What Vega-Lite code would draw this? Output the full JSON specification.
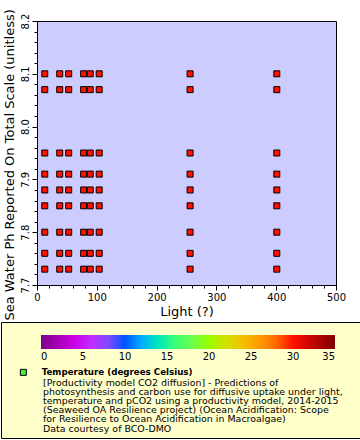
{
  "$schema": "https://vega.github.io/schema/vega-lite/v6.json",
  "autosize": {"type": "pad"},
  "padding": {"left": 0, "top": 8, "right": 0, "bottom": 0},
  "background": "white",
  "config": {
    "font": "DejaVu Sans",
    "axis": {
      "grid": false,
      "domainColor": "black",
      "tickColor": "black",
      "labelColor": "black",
      "titleColor": "black",
      "titleFontWeight": "normal",
      "labelFontSize": 10,
      "titleFontSize": 13,
      "tickWidth": 1,
      "domainWidth": 1,
      "labelFlush": false,
      "labelOverlap": false
    },
    "legend": {"labelColor": "black"}
  },
  "datasets": {
    "pts": [
      {"light": 13, "ph": 8.10, "temp": 30, "series": "Temperature (degrees Celsius)"},
      {"light": 38, "ph": 8.10, "temp": 30, "series": "Temperature (degrees Celsius)"},
      {"light": 53, "ph": 8.10, "temp": 30, "series": "Temperature (degrees Celsius)"},
      {"light": 78, "ph": 8.10, "temp": 30, "series": "Temperature (degrees Celsius)"},
      {"light": 89, "ph": 8.10, "temp": 30, "series": "Temperature (degrees Celsius)"},
      {"light": 104, "ph": 8.10, "temp": 30, "series": "Temperature (degrees Celsius)"},
      {"light": 256, "ph": 8.10, "temp": 30, "series": "Temperature (degrees Celsius)"},
      {"light": 401, "ph": 8.10, "temp": 30, "series": "Temperature (degrees Celsius)"},
      {"light": 13, "ph": 8.07, "temp": 30, "series": "Temperature (degrees Celsius)"},
      {"light": 38, "ph": 8.07, "temp": 30, "series": "Temperature (degrees Celsius)"},
      {"light": 53, "ph": 8.07, "temp": 30, "series": "Temperature (degrees Celsius)"},
      {"light": 78, "ph": 8.07, "temp": 30, "series": "Temperature (degrees Celsius)"},
      {"light": 89, "ph": 8.07, "temp": 30, "series": "Temperature (degrees Celsius)"},
      {"light": 104, "ph": 8.07, "temp": 30, "series": "Temperature (degrees Celsius)"},
      {"light": 256, "ph": 8.07, "temp": 30, "series": "Temperature (degrees Celsius)"},
      {"light": 401, "ph": 8.07, "temp": 30, "series": "Temperature (degrees Celsius)"},
      {"light": 13, "ph": 7.95, "temp": 30, "series": "Temperature (degrees Celsius)"},
      {"light": 38, "ph": 7.95, "temp": 30, "series": "Temperature (degrees Celsius)"},
      {"light": 53, "ph": 7.95, "temp": 30, "series": "Temperature (degrees Celsius)"},
      {"light": 78, "ph": 7.95, "temp": 30, "series": "Temperature (degrees Celsius)"},
      {"light": 89, "ph": 7.95, "temp": 30, "series": "Temperature (degrees Celsius)"},
      {"light": 104, "ph": 7.95, "temp": 30, "series": "Temperature (degrees Celsius)"},
      {"light": 256, "ph": 7.95, "temp": 30, "series": "Temperature (degrees Celsius)"},
      {"light": 401, "ph": 7.95, "temp": 30, "series": "Temperature (degrees Celsius)"},
      {"light": 13, "ph": 7.91, "temp": 30, "series": "Temperature (degrees Celsius)"},
      {"light": 38, "ph": 7.91, "temp": 30, "series": "Temperature (degrees Celsius)"},
      {"light": 53, "ph": 7.91, "temp": 30, "series": "Temperature (degrees Celsius)"},
      {"light": 78, "ph": 7.91, "temp": 30, "series": "Temperature (degrees Celsius)"},
      {"light": 89, "ph": 7.91, "temp": 30, "series": "Temperature (degrees Celsius)"},
      {"light": 104, "ph": 7.91, "temp": 30, "series": "Temperature (degrees Celsius)"},
      {"light": 256, "ph": 7.91, "temp": 30, "series": "Temperature (degrees Celsius)"},
      {"light": 401, "ph": 7.91, "temp": 30, "series": "Temperature (degrees Celsius)"},
      {"light": 13, "ph": 7.88, "temp": 30, "series": "Temperature (degrees Celsius)"},
      {"light": 38, "ph": 7.88, "temp": 30, "series": "Temperature (degrees Celsius)"},
      {"light": 53, "ph": 7.88, "temp": 30, "series": "Temperature (degrees Celsius)"},
      {"light": 78, "ph": 7.88, "temp": 30, "series": "Temperature (degrees Celsius)"},
      {"light": 89, "ph": 7.88, "temp": 30, "series": "Temperature (degrees Celsius)"},
      {"light": 104, "ph": 7.88, "temp": 30, "series": "Temperature (degrees Celsius)"},
      {"light": 256, "ph": 7.88, "temp": 30, "series": "Temperature (degrees Celsius)"},
      {"light": 401, "ph": 7.88, "temp": 30, "series": "Temperature (degrees Celsius)"},
      {"light": 13, "ph": 7.85, "temp": 30, "series": "Temperature (degrees Celsius)"},
      {"light": 38, "ph": 7.85, "temp": 30, "series": "Temperature (degrees Celsius)"},
      {"light": 53, "ph": 7.85, "temp": 30, "series": "Temperature (degrees Celsius)"},
      {"light": 78, "ph": 7.85, "temp": 30, "series": "Temperature (degrees Celsius)"},
      {"light": 89, "ph": 7.85, "temp": 30, "series": "Temperature (degrees Celsius)"},
      {"light": 104, "ph": 7.85, "temp": 30, "series": "Temperature (degrees Celsius)"},
      {"light": 256, "ph": 7.85, "temp": 30, "series": "Temperature (degrees Celsius)"},
      {"light": 401, "ph": 7.85, "temp": 30, "series": "Temperature (degrees Celsius)"},
      {"light": 13, "ph": 7.80, "temp": 30, "series": "Temperature (degrees Celsius)"},
      {"light": 38, "ph": 7.80, "temp": 30, "series": "Temperature (degrees Celsius)"},
      {"light": 53, "ph": 7.80, "temp": 30, "series": "Temperature (degrees Celsius)"},
      {"light": 78, "ph": 7.80, "temp": 30, "series": "Temperature (degrees Celsius)"},
      {"light": 89, "ph": 7.80, "temp": 30, "series": "Temperature (degrees Celsius)"},
      {"light": 104, "ph": 7.80, "temp": 30, "series": "Temperature (degrees Celsius)"},
      {"light": 256, "ph": 7.80, "temp": 30, "series": "Temperature (degrees Celsius)"},
      {"light": 401, "ph": 7.80, "temp": 30, "series": "Temperature (degrees Celsius)"},
      {"light": 13, "ph": 7.76, "temp": 30, "series": "Temperature (degrees Celsius)"},
      {"light": 38, "ph": 7.76, "temp": 30, "series": "Temperature (degrees Celsius)"},
      {"light": 53, "ph": 7.76, "temp": 30, "series": "Temperature (degrees Celsius)"},
      {"light": 78, "ph": 7.76, "temp": 30, "series": "Temperature (degrees Celsius)"},
      {"light": 89, "ph": 7.76, "temp": 30, "series": "Temperature (degrees Celsius)"},
      {"light": 104, "ph": 7.76, "temp": 30, "series": "Temperature (degrees Celsius)"},
      {"light": 256, "ph": 7.76, "temp": 30, "series": "Temperature (degrees Celsius)"},
      {"light": 401, "ph": 7.76, "temp": 30, "series": "Temperature (degrees Celsius)"},
      {"light": 13, "ph": 7.73, "temp": 30, "series": "Temperature (degrees Celsius)"},
      {"light": 38, "ph": 7.73, "temp": 30, "series": "Temperature (degrees Celsius)"},
      {"light": 53, "ph": 7.73, "temp": 30, "series": "Temperature (degrees Celsius)"},
      {"light": 78, "ph": 7.73, "temp": 30, "series": "Temperature (degrees Celsius)"},
      {"light": 89, "ph": 7.73, "temp": 30, "series": "Temperature (degrees Celsius)"},
      {"light": 104, "ph": 7.73, "temp": 30, "series": "Temperature (degrees Celsius)"},
      {"light": 256, "ph": 7.73, "temp": 30, "series": "Temperature (degrees Celsius)"},
      {"light": 401, "ph": 7.73, "temp": 30, "series": "Temperature (degrees Celsius)"}
    ]
  },
  "bounds": "full",
  "spacing": 0,
  "vconcat": [
    {
      "bounds": "flush",
      "spacing": 0,
      "hconcat": [
        {
          "width": 36,
          "height": 264,
          "data": {"values": []},
          "mark": "point",
          "view": {"stroke": null, "fill": null}
        },
        {
          "width": 299,
          "height": 264,
          "data": {"name": "pts"},
          "view": {"fill": "#ccccff", "stroke": "black", "strokeWidth": 1},
          "mark": {"type": "point", "filled": true, "size": 36, "stroke": "black", "strokeWidth": 1, "opacity": 1},
          "encoding": {
            "x": {
              "field": "light",
              "type": "quantitative",
              "scale": {"domain": [0, 500], "nice": false, "zero": false},
              "axis": {
                "title": "Light (?)",
                "values": [0, 20, 40, 60, 80, 100, 120, 140, 160, 180, 200, 220, 240, 260, 280, 300, 320, 340, 360, 380, 400, 420, 440, 460, 480, 500],
                "labelExpr": "datum.value % 100 === 0 ? datum.label : ''",
                "tickSize": {"condition": {"test": "datum.value % 100 === 0", "value": 5}, "value": 3},
                "labelPadding": 2,
                "titlePadding": 3
              }
            },
            "y": {
              "field": "ph",
              "type": "quantitative",
              "scale": {"domain": [7.7, 8.2], "nice": false, "zero": false},
              "axis": {
                "title": "Sea Water Ph Reported On Total Scale (unitless)",
                "values": [7.7, 7.72, 7.74, 7.76, 7.78, 7.8, 7.82, 7.84, 7.86, 7.88, 7.9, 7.92, 7.94, 7.96, 7.98, 8.0, 8.02, 8.04, 8.06, 8.08, 8.1, 8.12, 8.14, 8.16, 8.18, 8.2],
                "labelExpr": "abs(datum.value * 10 - round(datum.value * 10)) < 0.001 ? format(datum.value, '.1f') : ''",
                "tickSize": {"condition": {"test": "abs(datum.value * 10 - round(datum.value * 10)) < 0.001", "value": 5}, "value": 3},
                "labelAngle": 270,
                "labelPadding": 2,
                "titlePadding": 4,
                "titleAnchor": "start",
                "titleY": 299
              }
            },
            "fill": {
              "field": "temp",
              "type": "quantitative",
              "scale": {
                "domain": [0, 5, 10, 15, 20, 25, 30, 35],
                "range": ["#80008a", "#dd00ff", "#0055ff", "#00ff88", "#99ff00", "#ffb000", "#ff1100", "#800000"]
              },
              "legend": {
                "orient": "none",
                "legendX": 40,
                "legendY": 314,
                "direction": "horizontal",
                "title": null,
                "gradientLength": 294,
                "gradientThickness": 14,
                "gradientStrokeWidth": 0,
                "values": [0, 5, 10, 15, 20, 25, 30, 35],
                "labelAlign": "center",
                "labelFontSize": 10,
                "labelOffset": 3
              }
            },
            "shape": {
              "field": "series",
              "type": "nominal",
              "scale": {"range": ["square"]},
              "legend": {
                "orient": "none",
                "legendX": 18,
                "legendY": 347,
                "title": null,
                "symbolFillColor": "#44ee44",
                "symbolStrokeColor": "black",
                "symbolStrokeWidth": 1,
                "symbolSize": 36,
                "labelFontWeight": "bold",
                "labelFontSize": 8.7,
                "labelOffset": 14,
                "labelLimit": 400
              }
            }
          }
        }
      ]
    },
    {
      "width": 359,
      "height": 116,
      "view": {"fill": "#ffffcc", "stroke": "black", "strokeWidth": 1},
      "data": {"values": []},
      "mark": "text",
      "title": {
        "text": [
          "[Productivity model CO2 diffusion] - Predictions of",
          "photosynthesis and carbon use for diffusive uptake under light,",
          "temperature and pCO2 using a productivity model, 2014-2015",
          "(Seaweed OA Resilience project) (Ocean Acidification: Scope",
          "for Resilience to Ocean Acidification in Macroalgae)",
          "Data courtesy of BCO-DMO"
        ],
        "orient": "bottom",
        "anchor": "start",
        "frame": "group",
        "offset": -59,
        "dx": 42,
        "fontSize": 9.45,
        "fontWeight": "normal",
        "lineHeight": 9.1,
        "color": "black"
      }
    }
  ]
}
